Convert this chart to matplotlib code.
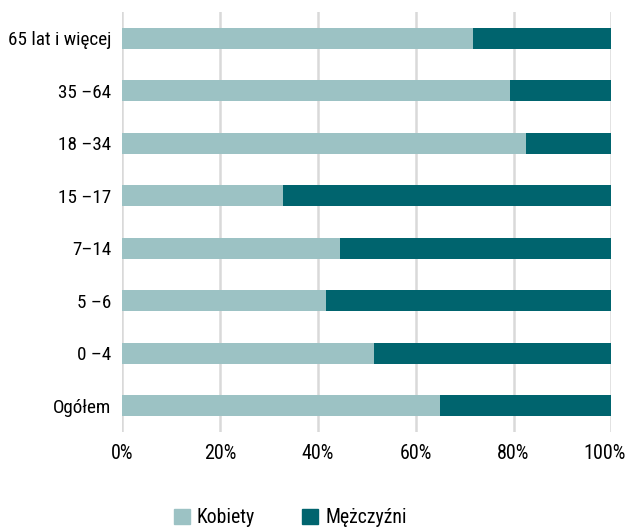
import matplotlib
matplotlib.use("Agg")
import matplotlib.pyplot as plt
from matplotlib.patches import Patch
from matplotlib.transforms import ScaledTranslation

categories = ["Ogółem", "0 –4", "5 –6", "7–14", "15 –17", "18 –34", "35 –64", "65 lat i więcej"]
kobiety = [64.9, 51.5, 41.7, 44.5, 32.8, 82.6, 79.2, 71.7]
mezczyzni = [100 - v for v in kobiety]
xticks = [0, 20, 40, 60, 80, 100]
xticklabels = ["0%", "20%", "40%", "60%", "80%", "100%"]

plt.rcParams['font.family'] = ['Roboto Condensed', 'Archivo Narrow', 'Liberation Sans Narrow', 'DejaVu Sans']

c_light = "#9cc2c4"
c_dark = "#00646e"

fig = plt.figure(figsize=(6.27, 5.28), dpi=100)
ax = fig.add_axes([0.195, 0.182, 0.780, 0.795])

y = list(range(len(categories)))
ax.barh(y, kobiety, height=0.4, color=c_light, zorder=3)
ax.barh(y, mezczyzni, left=kobiety, height=0.4, color=c_dark, zorder=3)

ax.set_xlim(0, 100)
ax.set_ylim(-0.5, len(categories) - 0.5)
ax.set_xticks(xticks)
ax.set_xticklabels(xticklabels, fontsize=14.5)
ax.set_yticks(y)
ax.set_yticklabels(categories, fontsize=13.8)
ax.xaxis.grid(True, color="#d9d9d9", linewidth=1.8, zorder=0)
ax.tick_params(axis="both", length=0, pad=8)
ax.tick_params(axis="x", pad=9)
for s in ax.spines.values():
    s.set_visible(False)

last = ax.get_xticklabels()[-1]
last.set_transform(last.get_transform() + ScaledTranslation(-7 / 100, 0, fig.dpi_scale_trans))

handles = [Patch(color=c_light, label="Kobiety"), Patch(color=c_dark, label="Mężczyźni")]
fig.legend(handles=handles, loc="center", bbox_to_anchor=(0.463, 0.019), ncol=2,
           frameon=False, fontsize=14.2, handlelength=0.8, handleheight=0.8,
           columnspacing=2.4, handletextpad=0.35)

fig.savefig("out.png", dpi=100)
